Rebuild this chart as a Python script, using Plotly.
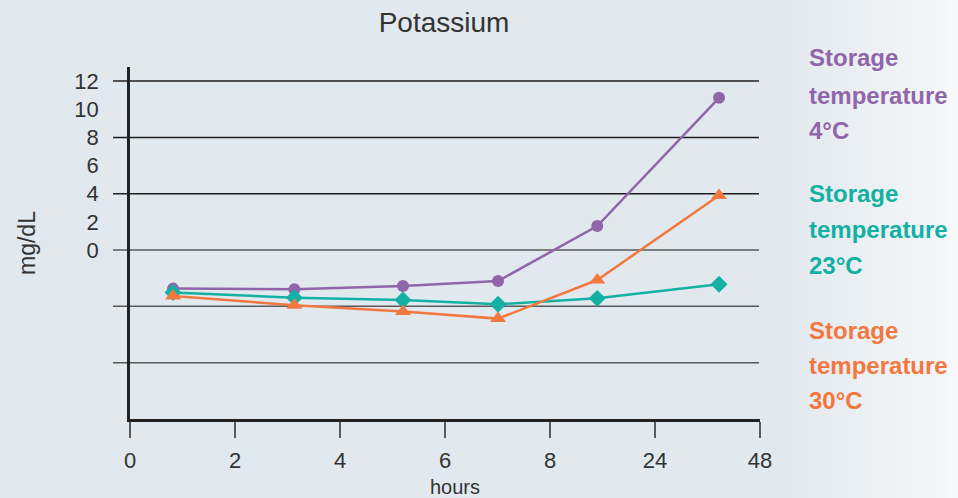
"""Potassium vs storage time at three storage temperatures."""

import plotly.graph_objects as go

# x positions are in axis-slot units (one slot per labelled tick)
HOUR_LABELS = ["0", "2", "4", "6", "8", "24", "48"]
SAMPLE_X = [0.41, 1.565, 2.60, 3.505, 4.45, 5.61]

K_4C = [-2.74, -2.79, -2.55, -2.20, 1.70, 10.81]
K_23C = [-3.02, -3.38, -3.55, -3.85, -3.43, -2.43]
K_30C = [-3.26, -3.92, -4.37, -4.87, -2.13, 3.88]

Y_LABELS = [0, 2, 4, 6, 8, 10, 12]
GRID_DARK = [4, 8, 12]
GRID_LIGHT = [-8, -4, 0]

SERIES = [
    (["Storage", "temperature", "4°C"], K_4C, "#9165a9", "circle", 12),
    (["Storage", "temperature", "23°C"], K_23C, "#12b1a3", "diamond", 13),
    (["Storage", "temperature", "30°C"], K_30C, "#f37840", "triangle-up", 14),
]
# pixel rows of the label lines, top of page = 0
LABEL_ROWS = [[58, 95, 130], [193, 229, 265], [330, 365, 400]]

BG = "#e1e8ee"
FONT = "Liberation Sans, Arial, sans-serif"

PLOT_L, PLOT_R, PLOT_T, PLOT_B = 130, 760, 67, 419


def px_x(x):
    return (x - PLOT_L) / (PLOT_R - PLOT_L)


def px_y(y):
    return (PLOT_B - y) / (PLOT_B - PLOT_T)


fig = go.Figure()

for lines, values, color, symbol, size in SERIES:
    fig.add_trace(
        go.Scatter(
            x=SAMPLE_X,
            y=values,
            mode="lines+markers",
            name=" ".join(lines),
            line=dict(color=color, width=2.5),
            marker=dict(color=color, symbol=symbol, size=size),
            showlegend=False,
        )
    )

# soft fade to white on the right-hand side
n_strips = 14
for i in range(n_strips):
    t = (i + 1) / n_strips
    r = int(0xE1 + (0xF6 - 0xE1) * t)
    g = int(0xE8 + (0xF8 - 0xE8) * t)
    b = int(0xEE + (0xFA - 0xEE) * t)
    x0 = 780 + i * (958 - 780) / n_strips
    x1 = 780 + (i + 1) * (958 - 780) / n_strips + 1
    fig.add_shape(
        type="rect", xref="paper", yref="paper", layer="below",
        x0=px_x(x0), x1=px_x(x1), y0=-0.3, y1=1.3,
        fillcolor=f"rgb({r},{g},{b})", line_width=0,
    )

for level in GRID_DARK + GRID_LIGHT:
    fig.add_shape(
        type="line", xref="paper", yref="y", layer="below",
        x0=px_x(113), x1=px_x(759), y0=level, y1=level,
        line=dict(color="#1e1e1e" if level in GRID_DARK else "#5a5a5a", width=1.5),
    )

for (lines, _, color, _, _), rows in zip(SERIES, LABEL_ROWS):
    for text, row in zip(lines, rows):
        fig.add_annotation(
            text=f"<b>{text}</b>", x=px_x(807), y=px_y(row), xref="paper", yref="paper",
            xanchor="left", yanchor="middle", align="left", showarrow=False,
            font=dict(family=FONT, size=24, color=color),
        )

fig.add_annotation(
    text="mg/dL", textangle=-90, x=px_x(27), y=px_y(243), xref="paper", yref="paper",
    xanchor="center", yanchor="middle",
    showarrow=False, font=dict(family=FONT, size=23, color="#333333"),
)
fig.add_annotation(
    text="hours", x=px_x(455), y=px_y(487), xref="paper", yref="paper",
    xanchor="center", yanchor="middle",
    showarrow=False, font=dict(family=FONT, size=20, color="#333333"),
)

fig.update_layout(
    width=958,
    height=498,
    paper_bgcolor=BG,
    plot_bgcolor="rgba(0,0,0,0)",
    margin=dict(l=PLOT_L, r=958 - PLOT_R, t=PLOT_T, b=498 - PLOT_B),
    title=dict(
        text="Potassium", x=444 / 958, xanchor="center",
        y=1 - 22 / 498, yanchor="middle",
        font=dict(family=FONT, size=28, color="#333333"),
    ),
    xaxis=dict(
        range=[0, 6],
        tickvals=list(range(len(HOUR_LABELS))),
        ticktext=HOUR_LABELS,
        ticks="outside", ticklen=16, tickwidth=1.5, tickcolor="#5a5a5a",
        ticklabelstandoff=4,
        showgrid=False, zeroline=False,
        showline=True, linecolor="#222222", linewidth=3,
        tickfont=dict(family=FONT, size=22, color="#333333"),
    ),
    yaxis=dict(
        range=[-12, 13],
        tickvals=Y_LABELS,
        ticks="", showgrid=False, zeroline=False,
        showline=True, linecolor="#222222", linewidth=2.5,
        ticklabelstandoff=24,
        tickfont=dict(family=FONT, size=22, color="#333333"),
    ),
)

fig.write_html(
    "out.html",
    config={"displayModeBar": False},
    post_script="document.body.style.margin='0';document.body.style.overflow='hidden';",
)
